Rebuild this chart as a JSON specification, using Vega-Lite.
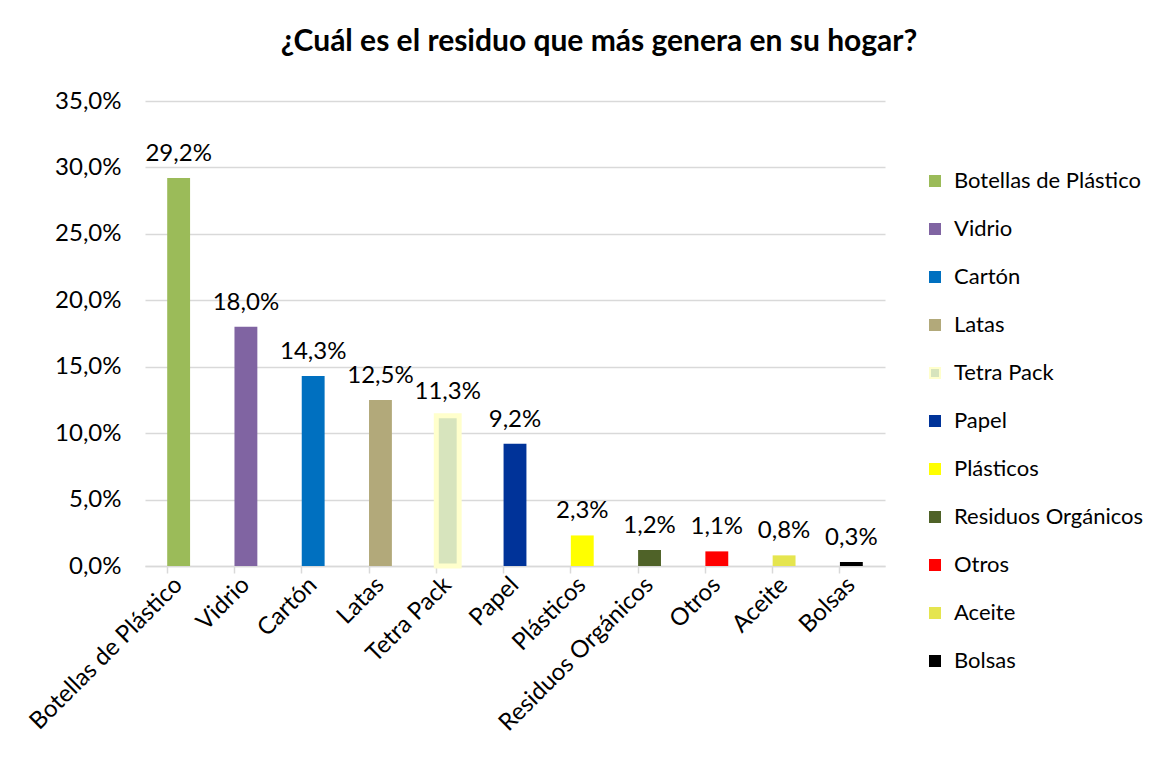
{
  "$schema": "https://vega.github.io/schema/vega-lite/v6.json",
  "width": 740,
  "height": 465,
  "autosize": {"type": "none"},
  "padding": {"left": 145, "top": 101, "right": 290, "bottom": 199},
  "background": "white",
  "title": {
    "text": "¿Cuál es el residuo que más genera en su hogar?",
    "font": "Lato",
    "fontSize": 30,
    "fontWeight": "bold",
    "color": "#000000",
    "anchor": "middle",
    "dx": 84,
    "offset": 32
  },
  "config": {
    "locale": {"number": {"decimal": ",", "thousands": ".", "grouping": [3], "currency": ["", " €"]}},
    "view": {"stroke": null},
    "font": "Lato"
  },
  "data": {
    "values": [
      {"residuo": "Botellas de Plástico", "porcentaje": 0.292},
      {"residuo": "Vidrio", "porcentaje": 0.180},
      {"residuo": "Cartón", "porcentaje": 0.143},
      {"residuo": "Latas", "porcentaje": 0.125},
      {"residuo": "Tetra Pack", "porcentaje": 0.113},
      {"residuo": "Papel", "porcentaje": 0.092},
      {"residuo": "Plásticos", "porcentaje": 0.023},
      {"residuo": "Residuos Orgánicos", "porcentaje": 0.012},
      {"residuo": "Otros", "porcentaje": 0.011},
      {"residuo": "Aceite", "porcentaje": 0.008},
      {"residuo": "Bolsas", "porcentaje": 0.003}
    ]
  },
  "encoding": {
    "x": {
      "field": "residuo",
      "type": "nominal",
      "sort": null,
      "scale": {"paddingInner": 0.66, "paddingOuter": 0.33},
      "axis": {
        "title": null,
        "labelAngle": -45,
        "labelAlign": "right",
        "labelBaseline": "middle",
        "labelFontSize": 24,
        "labelColor": "#000000",
        "labelPadding": 8,
        "labelLimit": 400,
        "bandPosition": 0,
        "tickSize": 7,
        "tickColor": "#d9d9d9",
        "domainColor": "#d9d9d9",
        "domainWidth": 1.5,
        "tickWidth": 1.5
      }
    },
    "y": {
      "field": "porcentaje",
      "type": "quantitative",
      "scale": {"domain": [0, 0.35]},
      "axis": {
        "title": null,
        "format": ".1%",
        "values": [0, 0.05, 0.1, 0.15, 0.2, 0.25, 0.3, 0.35],
        "labelFontSize": 24,
        "labelColor": "#000000",
        "labelPadding": 24,
        "domain": false,
        "ticks": false,
        "gridColor": "#d9d9d9",
        "gridWidth": 1.5
      }
    }
  },
  "layer": [
    {
      "mark": {"type": "bar"},
      "encoding": {
        "color": {
          "field": "residuo",
          "type": "nominal",
          "sort": null,
          "scale": {
            "domain": ["Botellas de Plástico", "Vidrio", "Cartón", "Latas", "Tetra Pack", "Papel", "Plásticos", "Residuos Orgánicos", "Otros", "Aceite", "Bolsas"],
            "range": ["#9BBB59", "#8064A2", "#0070C0", "#B2A97A", "#D7E4BD", "#003399", "#FFFF00", "#4F6228", "#FF0000", "#E5E54F", "#000000"]
          },
          "legend": {
            "title": null,
            "symbolType": "square",
            "symbolSize": 100,
            "symbolOpacity": 1,
            "symbolStrokeWidth": 2,
            "labelFontSize": 22,
            "labelColor": "#000000",
            "labelLimit": 400,
            "rowPadding": 26,
            "padding": 0,
            "labelOffset": 8,
            "orient": "none",
            "legendX": 779,
            "legendY": 69
          }
        },
        "stroke": {
          "field": "residuo",
          "type": "nominal",
          "sort": null,
          "scale": {
            "domain": ["Botellas de Plástico", "Vidrio", "Cartón", "Latas", "Tetra Pack", "Papel", "Plásticos", "Residuos Orgánicos", "Otros", "Aceite", "Bolsas"],
            "range": ["#9BBB59", "#8064A2", "#0070C0", "#B2A97A", "#FFFFCC", "#003399", "#FFFF00", "#4F6228", "#FF0000", "#E5E54F", "#000000"]
          },
          "legend": null
        },
        "strokeWidth": {
          "condition": {"test": "datum.residuo === 'Tetra Pack'", "value": 5},
          "value": 0
        }
      }
    },
    {
      "mark": {"type": "text", "baseline": "alphabetic", "dy": -17, "fontSize": 24, "color": "#000000"},
      "encoding": {
        "text": {"field": "porcentaje", "type": "quantitative", "format": ".1%"}
      }
    }
  ]
}
